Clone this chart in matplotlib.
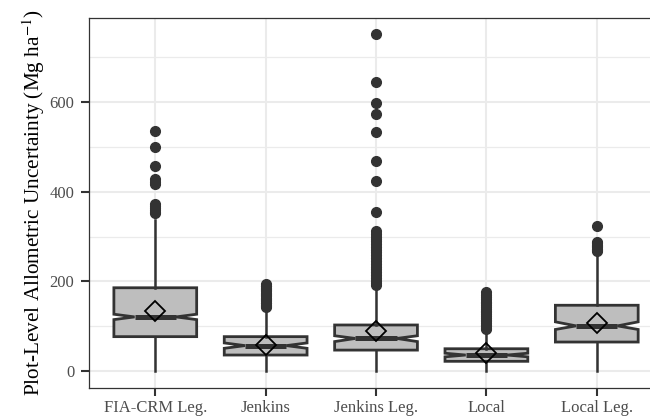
import matplotlib.pyplot as plt

plt.rcParams["font.family"] = ["Liberation Serif", "DejaVu Serif"]
plt.rcParams["mathtext.fontset"] = "stix"

# Per-model summaries of plot-level allometric uncertainty (Mg/ha)
models = ["FIA-CRM Leg.", "Jenkins", "Jenkins Leg.", "Local", "Local Leg."]
q1 = [77, 36, 47, 22, 65]
median = [121, 57, 73, 36, 101]
q3 = [186, 77, 103, 50, 147]
mean = [134, 59, 90, 40, 108]
notch_lo = [115, 51, 66, 32, 93]
notch_hi = [127, 63, 79, 40, 110]
whisker_lo = [0, 0, 0, 0, 0]
whisker_hi = [338, 132, 182, 84, 262]

outliers_fia = [536, 499, 458, 429, 422, 418, 372, 368, 364, 360, 356, 352]
outliers_jenkins = [142, 145, 148, 151, 153, 156, 159, 162, 164, 167, 170,
                    172, 175, 178, 181, 184, 186, 189, 191, 194]
outliers_jenkins_leg = [752, 644, 598, 573, 534, 469, 423, 355, 312, 306, 300,
                        295, 290, 284, 277, 271, 265, 258, 252, 246, 240, 233,
                        227, 221, 214, 208, 202, 196, 193]
outliers_local = [93, 97, 100, 104, 108, 112, 115, 119, 123, 127, 131, 135,
                  139, 143, 147, 151, 155, 160, 165, 170, 177]
outliers_local_leg = [323, 288, 285, 282, 279, 276, 273, 270, 268]
outliers = [outliers_fia, outliers_jenkins, outliers_jenkins_leg,
            outliers_local, outliers_local_leg]

stats = []
for i, name in enumerate(models):
    stats.append({
        "label": name, "q1": q1[i], "med": median[i], "q3": q3[i],
        "mean": mean[i], "cilo": notch_lo[i], "cihi": notch_hi[i],
        "whislo": whisker_lo[i], "whishi": whisker_hi[i],
        "fliers": outliers[i],
    })

fig = plt.figure(figsize=(6.5, 4.19), dpi=100)
ax = fig.add_axes([0.137, 0.074, 0.883, 0.883])

dark = "#333333"
positions = list(range(1, len(models) + 1))
ax.bxp(stats, positions=positions, widths=0.75, shownotches=True,
       patch_artist=True, showcaps=False, showmeans=True, manage_ticks=False,
       boxprops=dict(facecolor="#BEBEBE", edgecolor=dark, linewidth=2.0),
       whiskerprops=dict(color=dark, linewidth=1.8),
       medianprops=dict(color=dark, linewidth=3.6),
       flierprops=dict(marker="o", markerfacecolor=dark, markeredgecolor=dark,
                       markersize=7, linestyle="none"),
       meanprops=dict(marker="D", markerfacecolor="none", markeredgecolor="black",
                      markeredgewidth=1.3, markersize=10))

ax.set_xlim(0.4, 5.6)
ax.set_ylim(-37.5, 787.5)
ax.set_xticks(positions)
ax.set_xticklabels(models)
ax.set_yticks([0, 200, 400, 600])
ax.set_yticks([100, 300, 500, 700], minor=True)

ax.grid(True, which="major", color="#EBEBEB", linewidth=1.5, zorder=0)
ax.grid(True, which="minor", axis="y", color="#EBEBEB", linewidth=0.9, zorder=0)
ax.set_axisbelow(True)

for side in ax.spines.values():
    side.set_color(dark)
    side.set_linewidth(0.9)

ax.tick_params(axis="both", which="major", length=5.5, width=1.5, color=dark,
               labelsize=12, labelcolor="#4D4D4D")
ax.tick_params(axis="x", which="major", pad=3.5)
ax.tick_params(axis="y", which="major", pad=5)
ax.tick_params(axis="y", which="minor", length=0)

ax.set_ylabel("Plot-Level Allometric Uncertainty (Mg ha$^{-1}$)", fontsize=15.3,
              color="black", labelpad=2)

fig.savefig("out.png", dpi=100)
